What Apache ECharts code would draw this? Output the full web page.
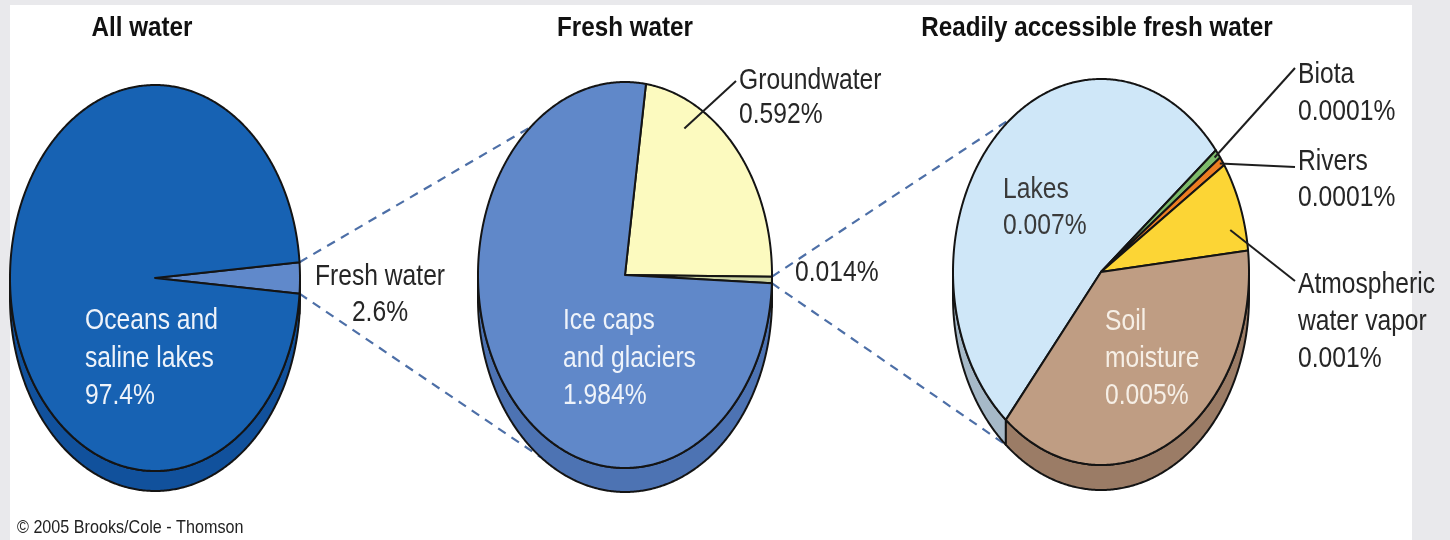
<!DOCTYPE html>
<html>
<head>
<meta charset="utf-8">
<script src="https://cdn.jsdelivr.net/npm/echarts@6/dist/echarts.min.js"></script>
<style>
  html, body { margin: 0; padding: 0; background: #e9e9ec; }
  #chart { width: 1450px; height: 540px; }
</style>
</head>
<body>
<div id="chart"></div>
<script>
// values as printed on the figure (percent of all water on Earth)
const titles = ['All water', 'Fresh water', 'Readily accessible fresh water']
const allNames = ['Fresh water', 'Oceans and\nsaline lakes']
const allValues = [2.6, 97.4]
const freshNames = ['Groundwater', '', 'Ice caps\nand glaciers']
const freshValues = [0.592, 0.014, 1.984]
const accessNames = ['Lakes', 'Biota', 'Rivers', 'Atmospheric\nwater vapor', 'Soil\nmoisture']
const accessValues = [0.007, 0.0001, 0.0001, 0.001, 0.005]
const credit = '\u00a9 2005 Brooks/Cole - Thomson'

const pieData = [
  { names: allNames, values: allValues },
  { names: freshNames, values: freshValues },
  { names: accessNames, values: accessValues },
]

// layout / style (ellipse pies seen at an angle, with a thin rim)
const pieLayout = [
  { cx: 155, cy: 278, rx: 145, ry: 193, depth: 20, start: 4.7 },
  { cx: 625, cy: 275, rx: 147, ry: 193, depth: 24, start: 81.8 },
  { cx: 1101, cy: 272, rx: 148, ry: 193, depth: 25, start: 230 },
]
const faceColors = [
  ['#6089cb', '#1762b3'],
  ['#fcfabf', '#cfd6a4', '#6088c9'],
  ['#cfe7f8', '#7dbc6c', '#ee7d22', '#fcd535', '#bf9d83'],
]
const sideColors = [
  ['#4b70b0', '#11519c'],
  ['#d8d49a', '#aab27f', '#4d73b3'],
  ['#a6b9c8', '#5f9a52', '#c8611a', '#d6b022', '#9b7c66'],
]
const darkText = '#262626'
const lightText = '#eef3fa'
const labelLayout = [
  [
    { x: 380, y: 277, lh: 36, align: 'center', color: darkText },
    { x: 85, y: 321, lh: 37.5, align: 'left', color: lightText },
  ],
  [
    { x: 739, y: 81, lh: 34, align: 'left', color: darkText, leader: { a: 62, r: 0.86, to: [736, 81] } },
    { x: 795, y: 273, lh: 36, align: 'left', color: darkText },
    { x: 563, y: 321, lh: 37.5, align: 'left', color: lightText },
  ],
  [
    { x: 1003, y: 190, lh: 36, align: 'left', color: '#3a3a3a' },
    { x: 1298, y: 75, lh: 37, align: 'left', color: darkText, leader: { a: 37.7, r: 0.97, to: [1295, 68] } },
    { x: 1298, y: 162, lh: 36, align: 'left', color: darkText, leader: { a: 35, r: 0.98, to: [1295, 167] } },
    { x: 1298, y: 285, lh: 37, align: 'left', color: darkText, leader: { a: 14, r: 0.9, to: [1295, 281] } },
    { x: 1105, y: 322, lh: 37, align: 'left', color: '#f6efe6' },
  ],
]
// dashed guides from a wedge to the next pie
const links = [
  { pie: 0, slice: 0, to: 1, up: 130, down: -125 },
  { pie: 1, slice: 1, to: 2, up: 127, down: -130 },
]
const FONT = '29px "Liberation Sans", Arial, sans-serif'
const SQUEEZE = 0.85
const EDGE = '#141414'

// cumulative angles, clockwise from each pie's start angle
const slices = []
pieData.forEach((p, pi) => {
  const total = p.values.reduce((a, b) => a + b, 0)
  let a = pieLayout[pi].start
  p.values.forEach((v, si) => {
    const span = (v / total) * 360
    slices.push({ pie: pi, idx: si, hi: a, lo: a - span, name: p.names[si], value: v })
    a -= span
  })
})

function ellPt(L, deg, k = 1, dy = 0) {
  const t = (deg * Math.PI) / 180
  return [L.cx + L.rx * k * Math.cos(t), L.cy - L.ry * k * Math.sin(t) + dy]
}

function arc(L, from, to, dy) {
  const n = Math.max(2, Math.ceil(Math.abs(from - to) / 0.5))
  const pts = []
  for (let i = 0; i <= n; i++) pts.push(ellPt(L, from + ((to - from) * i) / n, 1, dy))
  return pts
}

function renderSlice(params, api) {
  const s = slices[params.dataIndex]
  const L = pieLayout[s.pie]
  const children = []

  // top face
  children.push({
    type: 'polygon',
    z2: 2,
    shape: { points: [[L.cx, L.cy]].concat(arc(L, s.hi, s.lo, 0)) },
    style: { fill: faceColors[s.pie][s.idx], stroke: EDGE, lineWidth: 2, lineJoin: 'round' },
  })

  // rim: only the part of the slice on the front (lower) half
  for (let k = -2; k <= 2; k++) {
    const lo = Math.max(s.lo + 360 * k, -180)
    const hi = Math.min(s.hi + 360 * k, 0)
    if (hi - lo > 0.01) {
      const pts = arc(L, hi, lo, 0).concat(arc(L, lo, hi, L.depth))
      children.push({
        type: 'polygon',
        z2: 1,
        shape: { points: pts },
        style: { fill: sideColors[s.pie][s.idx], stroke: EDGE, lineWidth: 2, lineJoin: 'round' },
      })
    }
  }

  // dashed guides
  links.forEach((lk) => {
    if (lk.pie !== s.pie || lk.slice !== s.idx) return
    const T = pieLayout[lk.to]
    const a = ellPt(L, s.hi)
    const b = ellPt(T, lk.up)
    const c = ellPt(L, s.lo)
    const d = ellPt(T, lk.down, 1, T.depth)
    const st = { stroke: '#4d6fa7', lineWidth: 2.2, lineDash: [9, 7] }
    children.push({ type: 'line', z2: 0, shape: { x1: a[0], y1: a[1], x2: b[0], y2: b[1] }, style: st })
    children.push({ type: 'line', z2: 0, shape: { x1: c[0], y1: c[1], x2: d[0], y2: d[1] }, style: st })
  })

  // label
  const lab = labelLayout[s.pie][s.idx]
  const text = (s.name ? s.name + '\n' : '') + s.value + '%'
  text.split('\n').forEach((line, i) => {
    children.push({
      type: 'text',
      z2: 10,
      x: lab.x,
      y: lab.y + i * lab.lh,
      scaleX: SQUEEZE,
      style: {
        text: line, fill: lab.color, font: FONT,
        textAlign: lab.align, align: lab.align,
        textVerticalAlign: 'middle', verticalAlign: 'middle',
      },
    })
  })
  if (lab.leader) {
    const p = ellPt(L, lab.leader.a, lab.leader.r)
    children.push({
      type: 'line',
      z2: 10,
      shape: { x1: p[0], y1: p[1], x2: lab.leader.to[0], y2: lab.leader.to[1] },
      style: { stroke: '#1e1e1e', lineWidth: 2 },
    })
  }

  return { type: 'group', children }
}

const titleX = [142, 625, 1097]
const graphics = [
  { type: 'rect', z: 0, shape: { x: 10, y: 5, width: 1402, height: 535 }, style: { fill: '#ffffff' } },
]
titles.forEach((t, i) => {
  graphics.push({
    type: 'text', z: 5, x: titleX[i], y: 28, scaleX: SQUEEZE,
    style: {
      text: t, fill: '#111111', font: 'bold 28.5px "Liberation Sans", Arial, sans-serif',
      textAlign: 'center', align: 'center', textVerticalAlign: 'middle', verticalAlign: 'middle',
    },
  })
})
graphics.push({
  type: 'text', z: 5, x: 17, y: 528, scaleX: 0.85,
  style: {
    text: credit, fill: '#222222', font: '19px "Liberation Sans", Arial, sans-serif',
    textAlign: 'left', align: 'left', textVerticalAlign: 'middle', verticalAlign: 'middle',
  },
})

const chart = echarts.init(document.getElementById('chart'))
chart.setOption({
  backgroundColor: '#e9e9ec',
  animation: false,
  graphic: graphics,
  series: [
    {
      type: 'custom',
      coordinateSystem: 'none',
      silent: true,
      z: 2,
      renderItem: renderSlice,
      data: slices.map((s) => [s.pie, s.idx, s.value]),
    },
  ],
})
</script>
</body>
</html>
